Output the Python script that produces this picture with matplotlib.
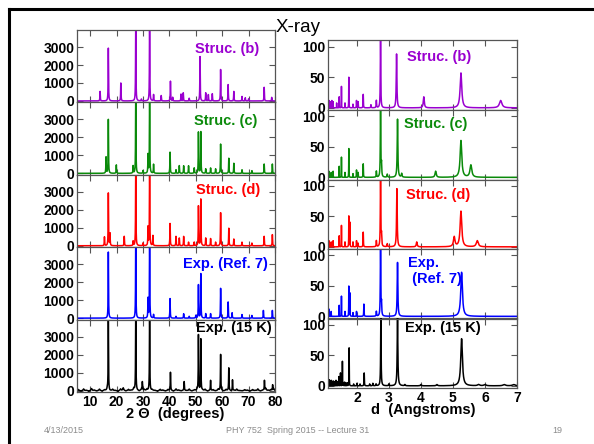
import numpy as np
import matplotlib.pyplot as plt
from matplotlib.lines import Line2D

plt.rcParams['font.family'] = ['Liberation Sans', 'DejaVu Sans']

W, H = 594, 444

colors = ['#9a00d0', '#0a8a0a', '#ff0000', '#0000ff', '#000000']
labels_l = ['Struc. (b)', 'Struc. (c)', 'Struc. (d)', 'Exp. (Ref. 7)', 'Exp. (15 K)']
labels_r = ['Struc. (b)', 'Struc. (c)', 'Struc. (d)', 'Exp.\n (Ref. 7)', 'Exp. (15 K)']

# ---- left column: intensity vs 2 theta (degrees) ----
b_tt = [13.75, 16.87, 21.6, 27.25, 29.4, 32.5, 34.0, 36.9, 40.4, 41.25, 44.4, 45.25, 47.5, 51.6, 53.75, 54.75,
        56.25, 59.4, 62.25, 64.4, 67.5, 68.75, 70.0, 75.9, 78.75]
b_tt_h = [530, 2940, 1000, 4500, 100, 4500, 350, 300, 1100, 200, 380, 450, 150, 2470, 450, 350,
          400, 1750, 910, 530, 250, 180, 120, 760, 200]

c_tt = [16.0, 16.87, 19.9, 26.25, 27.25, 30.0, 31.9, 32.5, 34.0, 40.25, 42.5, 43.75, 45.4, 47.25, 49.4, 51.0,
        51.9, 53.75, 55.6, 57.5, 59.4, 62.5, 64.4, 67.5, 71.25, 75.9, 79.0]
c_tt_h = [900, 3000, 470, 410, 4500, 150, 1030, 4500, 500, 1180, 200, 430, 420, 420, 300, 2290,
          2310, 250, 300, 250, 1630, 840, 560, 200, 150, 520, 520]

d_tt = [15.4, 16.87, 17.5, 22.9, 26.25, 27.25, 30.0, 31.9, 32.5, 33.75, 40.25, 42.5, 43.75, 45.4, 47.25, 49.4,
        51.0, 51.9, 53.75, 55.6, 57.5, 59.4, 62.5, 64.4, 67.5, 71.25, 75.9, 79.0]
d_tt_h = [490, 2930, 680, 525, 250, 4500, 150, 1030, 4500, 560, 1240, 520, 430, 520, 200, 200,
          2210, 2590, 430, 400, 200, 1840, 975, 375, 200, 150, 525, 620]

r7_tt = [16.87, 27.25, 31.9, 32.5, 34.0, 40.25, 42.5, 45.4, 47.5, 50.0, 51.0, 51.9, 53.75, 55.6, 59.4, 62.25,
         63.75, 67.5, 71.25, 75.6, 79.0]
r7_tt_h = [3680, 4500, 1090, 4500, 200, 1090, 100, 245, 100, 150, 1850, 2470, 250, 250, 1660, 900,
           300, 200, 150, 430, 430]

k15_tt = [16.87, 27.25, 29.75, 32.5, 40.4, 45.6, 51.0, 51.9, 55.6, 59.4, 62.5, 63.9, 76.0, 79.1]
k15_tt_h = [3850, 4500, 450, 4500, 1000, 460, 3090, 2860, 550, 2000, 1220, 600, 550, 300]
k15_noise = [60, -40, 90, 20, -60, 110, 30, -30, 80, -50, 40, 120, -20, 70, 10, -70, 90, 150, -30, 60,
             20, 130, 40, -40, 100, 60, 80, -20, 50, 10, -50, 70, 30, -30, 60, 20, -40, 90, 30, -20,
             50, 0, 80, -30, 40, 60, -10, 30, 70, -40, 20, 50, -20, 90, 10, -30, 60, 40, -50, 20,
             80, 0, -20, 50, 30, -40, 60, 10, 90, -30, 40, 120, 20, 60, 100]

# ---- right column: intensity (%) vs d (Angstroms) ----
b_d = [1.13, 1.18, 1.22, 1.26, 1.37, 1.45, 1.52, 1.63, 1.75, 1.88, 1.99, 2.04, 2.20, 2.44, 2.61, 2.74,
       3.24, 4.09, 5.25, 6.49]
b_d_h = [12, 10, 12, 10, 8, 18, 35, 8, 50, 6, 12, 10, 22, 5, 12, 115, 88, 18, 57, 12]

c_d = [1.13, 1.20, 1.26, 1.45, 1.52, 1.63, 1.75, 1.88, 1.99, 2.04, 2.20, 2.61, 2.74, 2.77, 2.95, 3.27,
       3.40, 4.46, 5.25, 5.56]
c_d_h = [10, 8, 10, 18, 33, 8, 47, 6, 12, 8, 22, 10, 115, 20, 5, 95, 6, 10, 60, 20]

d_d = [1.13, 1.20, 1.26, 1.45, 1.52, 1.63, 1.75, 1.78, 1.88, 1.99, 2.04, 2.20, 2.61, 2.74, 2.77, 2.95,
       3.25, 3.87, 5.04, 5.25, 5.76]
d_d_h = [10, 8, 10, 18, 35, 8, 50, 40, 8, 10, 6, 24, 10, 115, 18, 5, 95, 8, 16, 58, 10]

r7_d = [1.13, 1.20, 1.45, 1.52, 1.63, 1.75, 1.78, 1.88, 1.99, 2.22, 2.61, 2.74, 2.77, 3.27, 5.27]
r7_d_h = [12, 8, 18, 33, 8, 49, 38, 6, 8, 20, 8, 115, 20, 88, 72]

k15_d = [1.11, 1.14, 1.17, 1.20, 1.23, 1.26, 1.29, 1.32, 1.35, 1.38, 1.41, 1.44, 1.49, 1.55, 1.58, 1.62,
         1.66, 1.70, 1.76, 1.90, 2.00, 2.10, 2.23, 2.40, 2.50, 2.60, 2.75, 3.00, 3.27, 3.50, 4.00,
         4.50, 5.27, 5.80, 6.00, 6.60, 6.90]
k15_d_h = [8, 10, 6, 9, 5, 8, 7, 6, 9, 5, 7, 15, 21, 40, 5, 6, 4, 5, 62, 3, 4, 3, 21, 3, 4, 3, 115, 3,
           115, 2, 2, 2, 77, 2, 2, 2, 2]

left_sets = [(b_tt, b_tt_h), (c_tt, c_tt_h), (d_tt, d_tt_h), (r7_tt, r7_tt_h), (k15_tt, k15_tt_h)]
right_sets = [(b_d, b_d_h), (c_d, c_d_h), (d_d, d_d_h), (r7_d, r7_d_h), (k15_d, k15_d_h)]


def spectrum(x, pos, hgt, width):
    y = np.zeros_like(x)
    width = np.broadcast_to(width, len(pos))
    for p, h, w in zip(pos, hgt, width):
        y += h / (1 + ((x - p) / w) ** 2)
    return y


fig = plt.figure(figsize=(W / 100, H / 100), dpi=100)

# slide frame
fig.add_artist(Line2D([8.5 / W, 1], [1 - 9.5 / H, 1 - 9.5 / H], color='black', lw=2.2))
fig.add_artist(Line2D([8.5 / W, 8.5 / W], [0, 1 - 9.5 / H], color='black', lw=2.2))


def style(ax):
    ax.tick_params(direction='in', length=4, width=0.8, top=True, right=True, color='#555555', pad=2)
    for s in ax.spines.values():
        s.set_color('#555555')
        s.set_linewidth(0.9)


x_tt = np.arange(5, 80.01, 0.01)
x_d = np.arange(1.1, 7.001, 0.001)

# left column
top, ph = 30, 72.4
for i, (pos, hgt) in enumerate(left_sets):
    ax = fig.add_axes([77 / W, 1 - (top + (i + 1) * ph) / H, 198 / W, ph / H])
    y = spectrum(x_tt, pos, hgt, 0.08)
    if i == 4:
        y = y + spectrum(x_tt, np.linspace(5.5, 79.5, len(k15_noise)), k15_noise, 0.2)
    ax.plot(x_tt, y, color=colors[i], lw=1.1)
    ax.set_xlim(5, 80)
    ax.set_ylim(-80, 3950)
    ax.set_xticks(range(10, 81, 10))
    ax.set_yticks([0, 1000, 2000, 3000])
    ax.set_yticklabels(['0', '1000', '2000', '3000'], fontsize=10, fontweight='bold')
    if i == 4:
        ax.set_xticklabels([str(v) for v in range(10, 81, 10)], fontsize=10, fontweight='bold')
    else:
        ax.set_xticklabels([])
    style(ax)
    lx, ly = [(259, 49), (257, 121), (260, 190), (268, 264), (272, 328)][i]
    fig.text(lx / W, 1 - ly / H, labels_l[i], color=colors[i], fontsize=10.5, fontweight='bold',
             ha='right', va='center')

# right column
top, ph = 40.5, 69.5
for i, (pos, hgt) in enumerate(right_sets):
    ax = fig.add_axes([328 / W, 1 - (top + (i + 1) * ph) / H, 189 / W, ph / H])
    pos = np.array(pos)
    y = spectrum(x_d, pos, hgt, 0.0011 * pos ** 2)
    ax.plot(x_d, y, color=colors[i], lw=1.1)
    ax.set_xlim(1.1, 7)
    ax.set_ylim(-3.5, 110)
    ax.set_xticks(range(2, 8))
    ax.set_yticks([0, 50, 100])
    ax.set_yticklabels(['0', '50', '100'], fontsize=10, fontweight='bold')
    if i == 4:
        ax.set_xticklabels([str(v) for v in range(2, 8)], fontsize=10, fontweight='bold')
    else:
        ax.set_xticklabels([])
    style(ax)
    lx, ly = [(407, 57), (404, 124), (406, 195), (408, 271), (405, 328)][i]
    fig.text(lx / W, 1 - ly / H, labels_r[i], color=colors[i], fontsize=10.5, fontweight='bold',
             ha='left', va='center', linespacing=1.15)

fig.text(298 / W, 1 - 27 / H, 'X-ray', fontsize=13.5, ha='center', va='center')
fig.text(175 / W, 1 - 414 / H, '2 Θ  (degrees)', fontsize=10.5, fontweight='bold', ha='center', va='center')
fig.text(423 / W, 1 - 410 / H, 'd  (Angstroms)', fontsize=10.5, fontweight='bold', ha='center', va='center')

fig.text(64 / W, 1 - 430 / H, '4/13/2015', fontsize=6.5, color='#8c8c8c', ha='center', va='center')
fig.text(298 / W, 1 - 430 / H, 'PHY 752  Spring 2015 -- Lecture 31', fontsize=6.5, color='#8c8c8c',
         ha='center', va='center')
fig.text(557 / W, 1 - 430 / H, '19', fontsize=6.5, color='#8c8c8c', ha='center', va='center')

fig.savefig('out.png', dpi=100)
